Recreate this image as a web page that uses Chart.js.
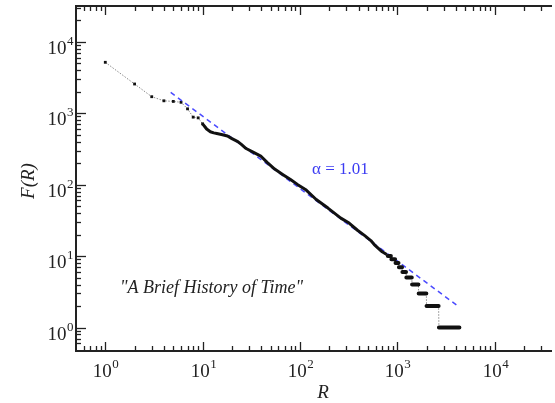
<!DOCTYPE html>
<html>
<head>
<meta charset="utf-8">
<title>Zipf plot - A Brief History of Time</title>
<script src="https://cdn.jsdelivr.net/npm/chart.js@4/dist/chart.umd.min.js"></script>
<style>
  html, body { margin: 0; padding: 0; background: #fff; overflow: hidden; }
  #wrap { width: 555px; height: 403px; position: relative; }
</style>
</head>
<body>
<div id="wrap"><canvas id="zipf"></canvas></div>
<script>
// rank / frequency
const rankR = [1, 2, 3, 4, 5, 6, 7, 8, 9, 10, 11, 12, 13, 14, 16, 18, 20, 23, 25, 28, 33, 40, 46, 55, 67, 80, 95, 116, 147, 194, 263, 320, 390, 460, 535, 580, 700, 780];
const rankF = [5150, 2560, 1700, 1490, 1460, 1420, 1150, 880, 860, 710, 600, 550, 530, 520, 500, 480, 440, 400, 365, 320, 285, 248, 205, 165, 138, 118, 100, 84, 62, 47, 34, 29, 23, 19.5, 16.5, 14.5, 11.5, 10.5];

// tail of the ranking: runs of words sharing the same count
const plateauF    = [10, 9, 8, 7, 6, 5, 4, 3, 2, 1];
const plateauFrom = [800, 870, 960, 1040, 1130, 1240, 1420, 1660, 2000, 2680];
const plateauTo   = [860, 950, 1030, 1120, 1230, 1410, 1650, 1990, 2660, 4350];

// fitted power law, alpha = 1.01
const fitR = [4.7, 4100];
const fitF = [1950, 2.05];

const xRange = [0.5, 38000];
const yRange = [0.47, 31600];

const INK = '#222';
const SERIF = '"Liberation Serif", "Times New Roman", serif';

const rankPoints = rankR.map((r, i) => ({ x: r, y: rankF[i] }));
const densePoints = rankPoints.filter(p => p.x >= 10);

const plateauPoints = [];
const tracePoints = rankPoints.slice();
plateauF.forEach((f, i) => {
    plateauPoints.push({ x: plateauFrom[i], y: f }, { x: plateauTo[i], y: f }, { x: plateauTo[i], y: null });
    tracePoints.push({ x: plateauFrom[i], y: f }, { x: plateauTo[i], y: f });
});

const fitPoints = fitR.map((r, i) => ({ x: r, y: fitF[i] }));

function logTicks(min, max) {
    const out = [];
    for (let e = Math.floor(Math.log10(min)); e <= Math.ceil(Math.log10(max)); e++) {
        for (let m = 1; m <= 9; m++) {
            const v = m * Math.pow(10, e);
            if (v >= min && v <= max) out.push({ v: v, major: m === 1, e: e });
        }
    }
    return out;
}

// "10" with a raised exponent
function powerLabel(ctx, e, x, y, align) {
    ctx.font = '19px ' + SERIF;
    const w1 = ctx.measureText('10').width;
    ctx.font = '13px ' + SERIF;
    const w2 = ctx.measureText(String(e)).width;
    let x0 = align === 'right' ? x - w1 - w2 : x - (w1 + w2) / 2;
    ctx.textAlign = 'left';
    ctx.textBaseline = 'alphabetic';
    ctx.font = '19px ' + SERIF;
    ctx.fillText('10', x0, y);
    ctx.font = '13px ' + SERIF;
    ctx.fillText(String(e), x0 + w1 + 0.5, y - 9);
}

const frameTicks = {
    id: 'frameTicks',
    afterDraw(chart) {
        const ctx = chart.ctx;
        const area = chart.chartArea;
        const xs = chart.scales.x;
        const ys = chart.scales.y;
        ctx.save();
        ctx.strokeStyle = INK;
        ctx.fillStyle = INK;
        ctx.lineWidth = 1.3;

        logTicks(xs.min, xs.max).forEach(t => {
            const px = Math.round(xs.getPixelForValue(t.v)) + 0.5;
            if (px < area.left + 2 || px > area.right) return;
            const len = t.major ? 9 : 5;
            ctx.beginPath();
            ctx.moveTo(px, area.bottom); ctx.lineTo(px, area.bottom - len);
            ctx.moveTo(px, area.top); ctx.lineTo(px, area.top + len);
            ctx.stroke();
            if (t.major) powerLabel(ctx, t.e, px, area.bottom + 26, 'center');
        });

        logTicks(ys.min, ys.max).forEach(t => {
            const py = Math.round(ys.getPixelForValue(t.v)) + 0.5;
            if (py > area.bottom - 2 || py < area.top) return;
            const len = t.major ? 10 : 5;
            ctx.beginPath();
            ctx.moveTo(area.left, py); ctx.lineTo(area.left + len, py);
            ctx.stroke();
            if (t.major) powerLabel(ctx, t.e, area.left - 3, py + 11, 'right');
        });

        // axis titles
        ctx.font = 'italic 19px ' + SERIF;
        ctx.textAlign = 'center';
        ctx.textBaseline = 'alphabetic';
        ctx.fillText('R', 323, 398);
        ctx.save();
        ctx.translate(34, 181);
        ctx.rotate(-Math.PI / 2);
        ctx.fillText('F(R)', 0, 0);
        ctx.restore();

        // annotations
        ctx.textAlign = 'left';
        ctx.fillStyle = '#3c3cf2';
        ctx.font = '17px ' + SERIF;
        ctx.fillText('\u03b1 = 1.01', 312, 174);
        ctx.fillStyle = INK;
        ctx.font = 'italic 18px ' + SERIF;
        ctx.fillText('"A Brief History of Time"', 120, 293);
        ctx.restore();
    }
};

const ctx = document.getElementById('zipf').getContext('2d');
new Chart(ctx, {
    type: 'scatter',
    data: {
        datasets: [
            {
                label: 'dense ranks',
                data: densePoints,
                showLine: true,
                borderColor: '#111',
                borderWidth: 3,
                borderJoinStyle: 'round',
                pointRadius: 0,
                order: 0
            },
            {
                label: 'equal counts',
                data: plateauPoints,
                showLine: true,
                spanGaps: false,
                borderColor: '#111',
                borderWidth: 4,
                borderCapStyle: 'round',
                pointRadius: 0,
                order: 1
            },
            {
                label: 'fit',
                data: fitPoints,
                showLine: true,
                borderColor: '#4a4aff',
                borderWidth: 1.5,
                borderDash: [5, 4],
                pointRadius: 0,
                order: 2
            },
            {
                label: 'F(R)',
                data: tracePoints,
                showLine: true,
                borderColor: '#8a8a8a',
                borderWidth: 1,
                borderDash: [1.5, 1.5],
                pointStyle: 'rect',
                pointRadius: c => (c.raw && c.raw.x <= 10 ? 2 : 0),
                pointBackgroundColor: '#111',
                pointBorderColor: '#111',
                pointBorderWidth: 0,
                order: 3
            }
        ]
    },
    options: {
        responsive: true,
        maintainAspectRatio: false,
        animation: false,
        layout: { padding: 0 },
        plugins: {
            legend: { display: false },
            tooltip: { enabled: false },
            title: { display: false }
        },
        scales: {
            x: {
                type: 'logarithmic',
                position: 'bottom',
                min: xRange[0],
                max: xRange[1],
                grid: { display: false, drawTicks: false },
                ticks: { display: false },
                border: { display: true, color: INK, width: 2 },
                afterFit: s => { s.height = 52; }
            },
            x2: {
                type: 'logarithmic',
                position: 'top',
                min: xRange[0],
                max: xRange[1],
                grid: { display: false, drawTicks: false },
                ticks: { display: false },
                border: { display: true, color: INK, width: 2 },
                afterFit: s => { s.height = 6; }
            },
            y: {
                type: 'logarithmic',
                position: 'left',
                min: yRange[0],
                max: yRange[1],
                grid: { display: false, drawTicks: false },
                ticks: { display: false },
                border: { display: true, color: INK, width: 2 },
                afterFit: s => { s.width = 76; }
            }
        }
    },
    plugins: [frameTicks]
});
</script>
</body>
</html>
